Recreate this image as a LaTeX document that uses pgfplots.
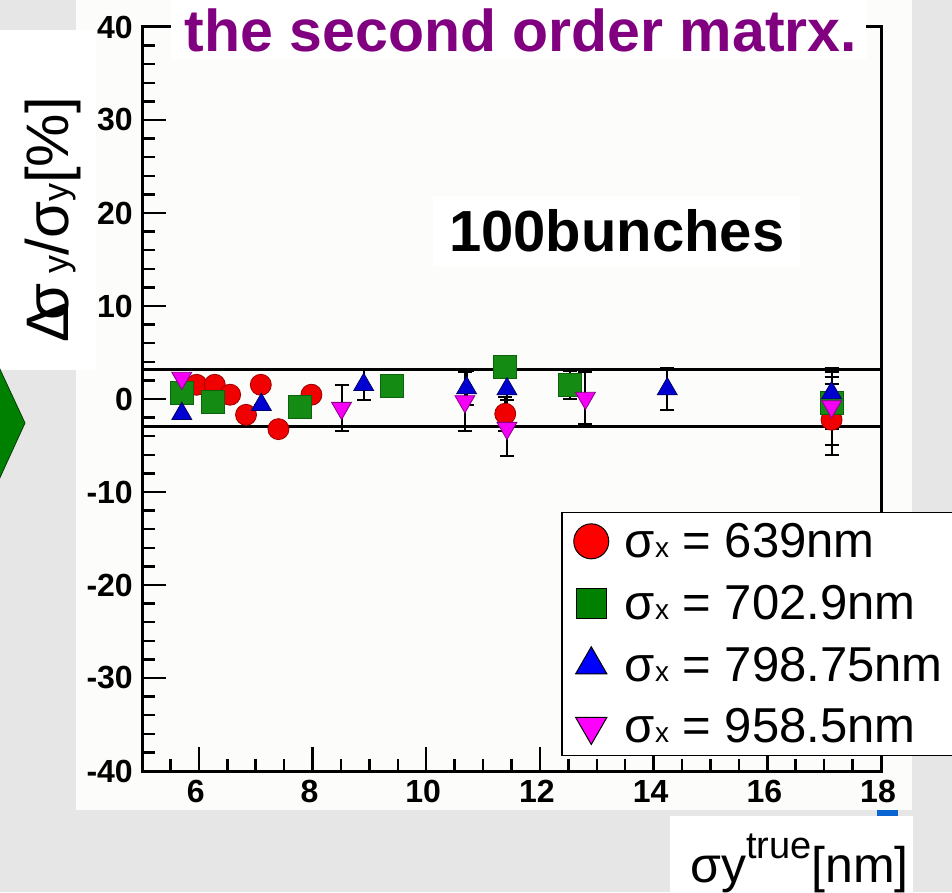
\documentclass[border=0pt]{standalone}
\usepackage{fontspec}
\setmainfont{Liberation Sans}
\usepackage{pgfplots}
\pgfplotsset{compat=1.18}
\usepackage{pgfplotstable}

\definecolor{slidegray}{RGB}{230,230,230}
\definecolor{plotbg}{RGB}{252,252,250}
\definecolor{titlepurple}{RGB}{128,0,128}
\definecolor{arrowgreen}{RGB}{0,128,0}
\definecolor{mkred}{RGB}{240,0,0}
\definecolor{mkgreen}{RGB}{20,140,20}
\definecolor{mkblue}{RGB}{0,0,210}
\definecolor{mkmag}{RGB}{245,0,245}
\definecolor{legred}{RGB}{255,0,0}
\definecolor{legblue}{RGB}{0,0,255}
\definecolor{legmag}{RGB}{255,0,255}
\definecolor{tabblue}{RGB}{10,100,210}

% relative resolution error vs true vertical beam size, 100 bunches
% sigma_x = 639 nm
\pgfplotstableread{
x      y      e
5.96   1.53   0
6.28   1.53   0
6.55   0.46   0
6.83  -1.70   0
7.09   1.53   0
7.40  -3.24   0
7.98   0.46   0
11.39 -1.59   1.8
17.13 -2.23   3.8
}\tabA
% sigma_x = 702.9 nm
\pgfplotstableread{
x      y      e
5.70   0.64   0
6.25  -0.26   0
7.78  -0.87   0
9.39   1.43   0
11.39  3.44   0
12.53  1.53   1.5
17.13 -0.44   2.8
}\tabB
% sigma_x = 798.75 nm
\pgfplotstableread{
x      y      e
5.70  -1.59   0
7.10  -0.62   0
8.90   1.53   1.6
10.71  1.18   1.8
11.42  1.07   1.2
14.24  1.07   2.3
17.13  0.64   2.3
}\tabC
% sigma_x = 958.5 nm
\pgfplotstableread{
x      y      e
5.70   2.25   0
8.51  -0.98   2.5
10.68 -0.26   3.2
11.42 -3.13   3.0
12.80  0.10   2.8
17.13 -0.80   4.1
}\tabD

\newcommand{\fs}[1]{\fontsize{#1}{#1}\selectfont}

\pgfplotsset{
  errs/.style={only marks, mark=none, forget plot,
    error bars/.cd, y dir=both, y explicit,
    error bar style={line width=2pt, black},
    error mark options={rotate=90, mark size=7pt, line width=2pt, black}},
}

\begin{document}
\begin{tikzpicture}[x=1pt,y=1pt]
\useasboundingbox (0,0) rectangle (952,892);
\fill[slidegray] (0,0) rectangle (952,892);
\fill[plotbg] (76,82) rectangle (912,892);
\fill[white] (0,522) rectangle (96,862);
\fill[arrowgreen, draw=black!50!arrowgreen, line width=0.8pt] (-2,527) -- (25,469) -- (-2,410) -- cycle;
\fill[white] (670,0) rectangle (913,76);
\fill[tabblue] (877,76) rectangle (898,82);

\begin{axis}[
  at={(142pt,121pt)}, anchor=south west,
  scale only axis, width=739pt, height=744pt,
  xmin=5, xmax=18, ymin=-40, ymax=40,
  axis line style={line width=3pt, black},
  tick align=inside,
  xtick={6,8,...,18}, ytick={-40,-30,...,40},
  xticklabels={6,8,10,12,14,16,18},
  yticklabels={-40,-30,-20,-10,0,10,20,30,40},
  minor xtick={5.5,6,...,18}, minor ytick={-38,-36,...,38},
  xtick pos=left, ytick pos=left,
  major tick length=24pt, minor tick length=12.5pt,
  tick style={line width=2.5pt, black},
  ticklabel style={font=\bfseries\fs{32}},
  xticklabel style={anchor=north, inner sep=0pt, yshift=-9pt, xshift=-3pt},
  yticklabel style={anchor=east, inner sep=0pt, xshift=-9pt},
  legend cell align=left,
  legend style={at={(0.567,0.3485)}, anchor=north west, draw=black,
    line width=1.5pt, fill=white, font=\fs{49},
    inner xsep=12pt, inner ysep=9pt, row sep=22pt, column sep=14pt},
]
% sigma_x = 639 nm
\addplot[errs] table[x=x, y=y, y error=e] {\tabA};
\addplot[only marks, forget plot, mark=*, mark size=10.5pt,
  mark options={fill=mkred, draw=red!60!black, line width=0.8pt}]
  table[x=x, y=y] {\tabA};
% sigma_x = 702.9 nm
\addplot[errs] table[x=x, y=y, y error=e] {\tabB};
\addplot[only marks, forget plot, mark=square*, mark size=11.5pt,
  mark options={fill=mkgreen, draw=mkgreen!70!black, line width=0.8pt}]
  table[x=x, y=y] {\tabB};
% sigma_x = 798.75 nm
\addplot[errs] table[x=x, y=y, y error=e] {\tabC};
\addplot[only marks, forget plot, mark=triangle*, mark size=11.5pt,
  mark options={fill=mkblue, draw=mkblue!50!black, line width=0.8pt}]
  table[x=x, y=y] {\tabC};
% sigma_x = 958.5 nm
\addplot[errs] table[x=x, y=y, y error=e] {\tabD};
\addplot[only marks, forget plot, mark=triangle*, mark size=11.5pt,
  mark options={rotate=180, fill=mkmag, draw=mkmag!55!black, line width=0.8pt}]
  table[x=x, y=y] {\tabD};
% tolerance band
\addplot[black, line width=3pt, forget plot] coordinates {(5,3.2) (18,3.2)};
\addplot[black, line width=3pt, forget plot] coordinates {(5,-3.0) (18,-3.0)};

\addlegendimage{only marks, mark=*, mark size=17.5pt, mark options={fill=legred, draw=black, line width=1pt}}
\addlegendentry{\makebox[320pt][l]{σ{\fs{28}x} = 639nm}}
\addlegendimage{only marks, mark=square*, mark size=15pt, mark options={fill=arrowgreen, draw=black, line width=1pt}}
\addlegendentry{\makebox[320pt][l]{σ{\fs{28}x} = 702.9nm}}
\addlegendimage{only marks, mark=triangle*, mark size=18pt, mark options={fill=legblue, draw=black, line width=1pt}}
\addlegendentry{\makebox[320pt][l]{σ{\fs{28}x} = 798.75nm}}
\addlegendimage{only marks, mark=triangle*, mark size=18pt, mark options={rotate=180, fill=legmag, draw=black, line width=1pt}}
\addlegendentry{\makebox[320pt][l]{σ{\fs{28}x} = 958.5nm}}
\end{axis}

% title panel over the top of the frame
\fill[white] (171,833) rectangle (866,892);
\node[anchor=base, text=titlepurple, font=\bfseries\fs{59}, inner sep=0pt] at (521,840) {the second order matrx.};
\node[anchor=base west, fill=white, font=\bfseries\fs{58}, inner xsep=16pt, inner ysep=14pt] at (433,640) {100bunches};
% axis titles
\node[rotate=90, anchor=base, inner sep=0pt] at (68,672) {\fs{60}Δ\kern-0.3emσ\,{\fs{36}y}/σ{\fs{36}y}[\%]};
\node[anchor=base west, inner sep=0pt] at (690,10) {\fs{50}σy\raisebox{24pt}{\fs{38}true}[nm]};
\end{tikzpicture}
\end{document}
